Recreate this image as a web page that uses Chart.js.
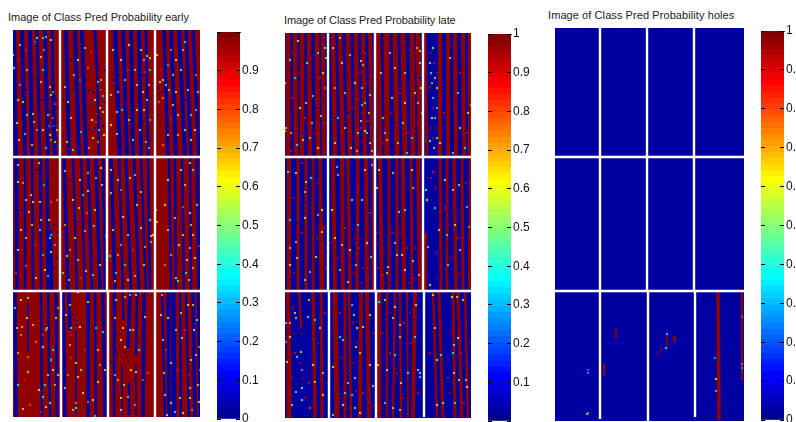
<!DOCTYPE html>
<html lang="en">
<head>
<meta charset="UTF-8">
<title>Image of Class Pred Probability</title>
<script src="https://cdn.jsdelivr.net/npm/chart.js"></script>
<style>
    html, body { margin: 0; width: 796px; height: 422px; overflow: hidden; background: #fff; }
    canvas { position: absolute; }
    .title {
        position: absolute;
        font: 11px "Liberation Sans", Arial, sans-serif;
        color: #222;
        white-space: nowrap;
        line-height: 14px;
    }
</style>
</head>
<body>
<script>
// titles
const earlyTitle = 'Image of Class Pred Probability early';
const lateTitle = 'Image of Class Pred Probability late';
const holesTitle = 'Image of Class Pred Probability holes';

// colour bar tick labels
const earlyTicks = ['0', '0.1', '0.2', '0.3', '0.4', '0.5', '0.6', '0.7', '0.8', '0.9'];
const lateTicks = ['0.1', '0.2', '0.3', '0.4', '0.5', '0.6', '0.7', '0.8', '0.9', '1'];
const holesTicks = ['0', '0.1', '0.2', '0.3', '0.4', '0.5', '0.6', '0.7', '0.8', '0.9', '1'];

// jet colormap, 64 levels, low to high
const jetColors = [
    '#000090','#0000A0','#0000B0','#0000C0','#0000D0','#0000E0','#0000F0','#0000FF',
    '#0010FF','#0020FF','#0030FF','#0040FF','#0050FF','#0060FF','#0070FF','#0080FF',
    '#008FFF','#009FFF','#00AFFF','#00BFFF','#00CFFF','#00DFFF','#00EFFF','#00FFFF',
    '#10FFEF','#20FFDF','#30FFCF','#40FFBF','#50FFAF','#60FF9F','#70FF8F','#80FF80',
    '#8FFF70','#9FFF60','#AFFF50','#BFFF40','#CFFF30','#DFFF20','#EFFF10','#FFFF00',
    '#FFEF00','#FFDF00','#FFCF00','#FFBF00','#FFAF00','#FF9F00','#FF8F00','#FF8000',
    '#FF7000','#FF6000','#FF5000','#FF4000','#FF3000','#FF2000','#FF1000','#FF0000',
    '#EF0000','#DF0000','#CF0000','#BF0000','#AF0000','#9F0000','#8F0000','#800000'
];

// probability of the image background and of the stripes laid over it
const earlyBase = 0.985, earlyStripeValue = 0.015;
const lateBase = 0.015, lateStripeValue = 0.985;
const holesBase = 0.015, holesStripeValue = 0.985;

// image size in columns, rows
const earlySize = [187, 387];
const lateSize = [186, 385];
const holesSize = [189, 393];

// stripes: colA, rowA, colB, rowB, width in columns
const earlyStripes = [
    // top row of tiles
    [1,0,3,127,4],[9,0,12,127,4],[17,0,19,127,4],[24,0,27,127,3],[32,0,35,127,4],[39,0,40,60,3],[40,60,42,127,4],
    [53,0,56,127,4],[62,0,66,127,4],[69,0,73,127,4],[82,0,84,40,3],[84,40,86,127,2.5],
    [102,0,107,127,4.5],[110,0,114,127,4],[118,0,120,127,4],[126,0,128,127,4],[133,0,135,127,3],
    [151,0,155,127,3.5],[158,0,163,127,4],[166,0,172,127,4],[173,0,178,127,3.5],[180,0,186,127,3.5],
    // middle row
    [3,127,4,261,3.5],[12,127,12,261,2.5],[19,127,20,261,2.5],[27,127,28,261,2.5],[34,127,35,261,3.5],[37,200,39,261,3.5],
    [51,127,55,261,3.5],[60,127,64,261,2.5],[68,127,72,261,2.5],[75,127,79,261,3],[83,127,87,261,3.5],[90,127,92,261,3],
    [98,127,102,261,3.5],[106,127,110,261,2.5],[113,127,118,261,3],[121,127,126,261,3],[128,127,133,261,2.5],[135,127,137,261,2.5],
    [156,127,158,261,2.5],[162,127,163,261,2.5],[169,127,171,261,2.5],[177,127,178,261,2.5],[184,127,186,261,3.5],
    // bottom row
    [2,261,3,387,3.5],[15,272,15,322,1.5],[28,261,29,387,2.5],[35,261,37,387,2.5],[43,261,44,387,3],
    [50,261,52,387,3.5],[56,261,57,300,3.5],[63,300,63,385,1.5],[75,261,75,387,3.5],[82,261,83,387,2.5],[90,261,92,387,3.5],
    [102,261,101,387,2.5],[110,261,110,290,2.5],[117,261,115,318,3.5],[109,335,109,385,1.5],[124,261,123,325,2.5],[116,352,116,385,2.5],[123,335,123,385,1.5],[131,261,130,387,3.5],
    [149,261,152,387,2.5],[155,261,156,387,3.5],[160,261,161,387,5],[167,261,168,387,2.5],[173,261,176,387,2.5],[180,261,182,387,3.5],[185,261,187,387,3]
];

const lateStripes = [
    // top row of tiles
    [3,0,3,124,4.5],[10,0,11,124,4.5],[17,0,17,124,4.5],[24,0,25,124,4.5],[32,0,33,124,4.5],[38,0,39,124,4],
    [48,0,50,124,4.5],[55,0,58,124,4.5],[63,0,65,124,4.5],[71,0,72,124,4.5],[78,0,80,124,4],[85,0,87,124,4],
    [93,0,95,124,5],[101,0,102,124,5],[110,0,112,124,5],[118,0,120,124,5],[127,0,128,124,5],[133,0,135,124,4.5],
    [140,0,142,124,3],[155,0,155,124,4],[163,0,163,124,4],[170,0,171,124,4],[178,0,179,124,4],[185,0,185,124,4],
    // middle row
    [4,124,4,258,4],[13,124,13,258,3],[21,124,21,258,3],[28,124,28,258,3],[35,124,36,190,3.5],[36,190,37,258,5],
    [48,124,50,258,4],[57,124,58,258,4],[63,124,65,258,3.5],[73,124,72,258,3.5],[81,124,82,258,4],[88,124,88,258,3],
    [95,124,97,258,4],[104,124,104,258,3],[112,124,112,258,3],[118,124,119,258,4],[126,124,127,258,3],[133,124,135,258,4],
    [140,200,140,258,4],[155,124,156,258,3],[162,124,162,258,3],[169,124,171,258,3.5],[177,124,178,258,3],[185,124,185,200,2.5],[185,200,185,258,4],
    // bottom row
    [3,258,4,320,4],[4,320,4,385,5],[14,258,16,295,2.5],[28,258,30,385,3.5],[36,258,37,385,3],
    [50,258,52,385,5],[60,258,60,385,3],[64,258,66,385,2.5],[76,258,75,385,4],[82,258,84,385,4],
    [94,258,94,385,4.5],[102,258,102,385,2.5],[110,258,108,385,2.5],[115,258,116,385,2.5],[122,258,123,385,2],[130,258,128,385,4],
    [148,258,152,385,2.5],[154,258,158,385,3],[168,258,170,385,3],[173,258,177,385,3],[180,258,183,385,2.5]
];

const holesStripes = [
    [163,264,164,392,3.5],[187,264,187,352,2],[61,301,61,310,2],[49,335,49,347,2],[112,306,112,320,1.5],[119.5,308,119.5,314,2.5]
];

// noisy cells: col, row, probability
const earlySpeckles = [
    [0,25,.65],[1,38,.45],[5,70,.5],[10,72,.6],[28,27,.65],[31,20,.75],[24,8,.5],[33,7,.35],[38,10,.55],[37,57,.65],[40,62,.75],[38,65,.5],[35,85,.65],[40,88,.8],[37,105,.6],[38,110,.75],[33,118,.35],[24,100,.75],[19,115,.65],[28,52,.5],[4,93,.6],[14,40,.7],[7,15,.45],[42,74,.85],[41,96,.2],[44,100,.7],[36,96,.25],[42,112,.65],[20,84,.55],[12,104,.4],
    [52,57,.5],[55,72,.6],[61,45,.7],[78,22,.85],[75,38,.8],[65,30,.6],[72,18,.45],[85,52,.4],[88,50,.7],[82,70,.5],[90,66,.35],[87,78,.55],[79,90,.6],[83,92,.85],[86,100,.4],[80,108,.65],[85,112,.75],[90,82,.5],[58,88,.65],[68,102,.35],[54,112,.55],[60,120,.45],[76,118,.7],[91,105,.6],
    [100,20,.55],[98,65,.65],[108,30,.6],[112,50,.7],[105,62,.45],[104,104,.5],[116,15,.6],[122,40,.45],[124,80,.55],[128,20,.6],[131,30,.7],[134,26,.65],[132,42,.85],[137,28,.5],[136,55,.7],[130,62,.6],[134,70,.45],[131,80,.65],[137,90,.75],[127,100,.6],[133,112,.7],[136,118,.35],[120,110,.5],[137,40,.35],[98,95,.6],
    [150,50,.5],[147,52,.65],[153,55,.4],[150,68,.75],[146,72,.8],[142,72,.7],[144,25,.6],[160,45,.5],[158,20,.75],[156,60,.45],[163,62,.6],[160,75,.65],[168,40,.55],[175,60,.65],[178,85,.4],[183,80,.35],[185,62,.5],[172,100,.5],[165,105,.7],[155,105,.55],[178,110,.65],[150,115,.75],[172,12,.45],[158,90,.85],
    [5,135,.5],[5,152,.6],[10,153,.7],[18,165,.65],[20,172,.6],[27,172,.6],[26,133,.55],[13,170,.5],[36,190,.6],[28,190,.65],[19,195,.65],[38,205,.35],[42,215,.75],[38,222,.6],[37,208,.5],[13,208,.5],[5,220,.6],[38,172,.8],[35,246,.35],[23,248,.6],[3,243,.85],[13,236,.8],[27,200,.4],
    [52,141,.5],[75,143,.7],[75,161,.6],[66,178,.65],[74,183,.8],[81,196,.45],[72,201,.45],[83,148,.4],[93,206,.3],[57,220,.75],[54,226,.65],[65,230,.55],[73,241,.65],[80,245,.45],[87,235,.6],[88,138,.6],[67,150,.55],[52,195,.7],[50,243,.5],[60,170,.6],
    [98,140,.6],[98,163,.5],[105,150,.55],[117,148,.55],[122,145,.45],[128,198,.5],[128,162,.55],[138,206,.65],[140,205,.6],[138,212,.7],[103,243,.4],[112,235,.35],[102,251,.65],[115,250,.6],[122,246,.7],[97,226,.4],[132,217,.7],[110,187,.55],
    [143,180,.45],[144,192,.65],[162,188,.65],[155,150,.6],[170,177,.8],[177,183,.6],[178,195,.5],[168,140,.55],[177,133,.65],[158,225,.7],[163,248,.55],[165,251,.5],[177,218,.5],[170,205,.55],[186,216,.85],[182,228,.6],[180,238,.7],[173,243,.45],[155,200,.5],
    [2,278,.45],[4,298,.5],[9,297,.7],[15,268,.65],[14,288,.6],[20,295,.65],[23,312,.75],[30,317,.55],[5,323,.7],[15,327,.75],[15,342,.5],[5,355,.45],[30,367,.45],[32,355,.4],[37,373,.55],[33,377,.6],[43,288,.65],[34,298,.5],[45,278,.75],[42,355,.7],[17,375,.8],[10,379,.55],[28,382,.85],
    [57,275,.65],[58,298,.45],[67,297,.6],[53,285,.55],[57,315,.7],[63,333,.6],[65,347,.65],[52,358,.5],[70,363,.6],[63,373,.7],[63,378,.5],[75,272,.55],[83,298,.35],[87,335,.75],[85,352,.6],[82,386,.35],[90,302,.4],[75,372,.75],[58,328,.85],
    [103,270,.5],[102,288,.65],[110,298,.55],[108,310,.6],[112,317,.65],[117,265,.7],[117,300,.55],[108,368,.6],[108,380,.55],[102,345,.35],[123,342,.6],[135,343,.8],[132,287,.55],[123,265,.6],[115,367,.7],[122,375,.75],[112,267,.7],
    [149,265,.7],[155,288,.6],[150,310,.5],[158,333,.5],[151,343,.65],[152,365,.5],[158,373,.6],[169,308,.55],[168,283,.65],[175,275,.6],[183,325,.5],[186,317,.75],[187,340,.3],[177,358,.7],[177,368,.6],[170,383,.6],[162,382,.45],[180,275,.55],[185,355,.55],[167,368,.5],
    // blue and deep red cells that fray the stripes
    [43,70,.02],[44,78,.02],[38,82,.02],[43,86,.02],[36,90,.03],[45,92,.02],[39,100,.02],[44,108,.02],[37,114,.02],[42,120,.02],[45,116,.15],[29,70,.02],[21,50,.02],[14,60,.1],[6,30,.9],[13,20,.85],[22,12,.25],[30,40,.35],[7,55,.3],[21,92,.7],[30,100,.55],[14,85,.4],[6,110,.65],[46,40,.02],[30,8,.4],
    [58,30,.02],[59,60,.02],[67,50,.25],[76,60,.02],[78,70,.1],[80,62,.02],[85,70,.02],[88,88,.02],[82,98,.02],[90,96,.02],[79,116,.9],[84,84,.9],[88,60,.85],[92,72,.02],[92,40,.02],[76,100,.02],
    [130,45,.02],[135,50,.02],[129,75,.02],[137,68,.02],[130,92,.02],[135,100,.02],[128,115,.02],[137,110,.02],[124,55,.5],[115,40,.85],[109,80,.35],[100,50,.02],[116,90,.55],[104,82,.65],
    [146,58,.02],[149,62,.02],[145,85,.02],[155,35,.3],[163,30,.6],[172,70,.02],[176,100,.02],[148,40,.9],[187,70,.02],[183,45,.75],[165,85,.45],[182,100,.6],[170,20,.7],
    [9,180,.02],[24,140,.02],[31,155,.3],[41,195,.02],[44,202,.02],[40,210,.02],[36,215,.02],[44,228,.02],[40,238,.02],[30,225,.35],[22,215,.85],[16,182,.5],[8,200,.55],[32,240,.6],[44,170,.75],
    [58,150,.02],[70,165,.35],[66,192,.02],[71,212,.02],[78,225,.02],[82,180,.55],[85,205,.02],[92,230,.02],[56,250,.45],[62,208,.6],[89,155,.5],[68,248,.85],
    [108,160,.3],[124,175,.6],[115,205,.5],[105,225,.7],[135,170,.02],[131,235,.6],[108,215,.35],[120,220,.85],[137,190,.45],[100,200,.55],
    [152,175,.6],[160,210,.02],[172,155,.65],[180,140,.5],[184,175,.5],[174,230,.6],[180,205,.55],[166,215,.55],[152,235,.75],[176,250,.5],
    [8,305,.75],[12,350,.85],[25,290,.9],[40,320,.45],[40,340,.6],[38,330,.35],[26,360,.6],[33,300,.7],[45,345,.55],[8,270,.55],[35,345,.5],[30,305,.85],
    [60,285,.02],[62,290,.02],[63,295,.02],[58,305,.9],[65,262,.6],[72,320,.85],[68,340,.5],[80,370,.55],[92,340,.6],[85,320,.65],[55,345,.75],[60,380,.45],
    [104,305,.02],[107,315,.02],[112,322,.02],[104,322,.02],[98,332,.02],[120,300,.5],[126,320,.45],[130,350,.8],[111,355,.5],[105,350,.7],[118,340,.55],
    [148,285,.6],[153,320,.85],[163,300,.5],[172,300,.85],[178,330,.55],[176,345,.9],[181,300,.6],[184,290,.45],[186,372,.6],[179,380,.75],[154,385,.6],[165,340,.85]
];

const lateSpeckles = [
    [0,50,.55],[1,95,.5],[0,98,.65],[5,27,.45],[10,45,.35],[13,8,.6],[22,30,.5],[15,75,.6],[28,63,.45],[33,20,.4],[27,90,.7],[25,105,.45],[33,115,.6],[40,15,.55],[38,40,.6],[36,83,.5],[6,100,.7],[18,107,.5],[12,112,.4],[40,55,.8],[21,70,.65],[41,25,.5],
    [48,15,.55],[55,5,.5],[57,30,.6],[65,22,.45],[50,55,.7],[53,85,.45],[60,60,.55],[70,50,.6],[60,95,.65],[73,100,.5],[76,28,.6],[77,55,.45],[78,32,.7],[80,70,.4],[85,62,.5],[77,72,.35],[84,80,.65],[76,88,.55],[80,98,.6],[85,110,.5],[82,100,.45],[87,118,.4],[50,110,.6],[66,115,.55],[72,118,.7],
    [96,40,.55],[100,100,.4],[102,107,.7],[105,20,.5],[110,35,.6],[107,65,.65],[113,110,.65],[120,40,.45],[118,90,.5],[122,120,.4],[127,105,.35],[132,15,.7],[135,18,.65],[138,20,.75],[135,30,.5],[136,55,.6],[133,70,.45],[137,80,.35],[130,60,.55],[120,70,.6],[98,85,.45],
    [145,30,.65],[148,15,.6],[146,40,.45],[150,45,.5],[147,50,.7],[148,65,.35],[152,55,.6],[150,85,.4],[147,85,.6],[152,105,.5],[149,115,.65],[145,108,.55],[155,110,.6],[165,25,.5],[173,60,.45],[175,95,.6],[183,80,.55],[186,72,.7],[180,115,.4],[168,120,.45],[152,75,.35],
    [3,139,.45],[11,140,.55],[21,149,.6],[26,145,.4],[20,159,.65],[33,182,.7],[37,199,.65],[5,187,.4],[11,209,.45],[5,215,.7],[20,185,.6],[12,225,.5],[5,232,.6],[25,239,.4],[20,247,.5],[31,224,.55],[37,177,.6],
    [52,134,.4],[53,142,.7],[47,177,.6],[67,167,.5],[73,192,.4],[57,212,.55],[50,205,.6],[65,217,.6],[71,232,.45],[82,210,.6],[86,224,.5],[55,237,.5],[77,167,.5],[80,137,.6],[87,132,.35],[63,249,.55],
    [92,155,.5],[94,137,.6],[108,140,.65],[120,177,.45],[114,179,.5],[128,155,.7],[127,137,.6],[112,222,.55],[117,222,.6],[103,234,.5],[102,240,.65],[120,237,.55],[97,242,.85],[110,210,.45],[128,228,.5],[134,242,.7],
    [141,157,.5],[142,167,.6],[148,139,.85],[150,175,.35],[154,197,.55],[143,214,.4],[163,232,.45],[174,152,.65],[168,157,.55],[160,147,.6],[182,174,.4],[170,192,.6],[184,194,.75],[175,217,.5],[162,202,.4],[145,252,.6],[152,245,.15],
    [1,290,.45],[5,290,.7],[10,280,.6],[11,285,.5],[5,304,.65],[1,309,.75],[2,329,.6],[16,319,.6],[17,337,.75],[12,324,.45],[17,355,.55],[11,359,.45],[24,267,.55],[23,284,.5],[30,287,.4],[28,332,.6],[30,349,.65],[38,340,.5],[25,375,.8],[7,372,.45],[38,362,.6],[17,367,.5],[35,295,.55],
    [67,272,.35],[69,282,.5],[72,295,.6],[58,307,.45],[55,304,.4],[71,314,.6],[75,320,.5],[48,334,.6],[63,350,.5],[70,345,.55],[60,360,.45],[67,362,.35],[70,375,.55],[75,380,.65],[58,372,.6],[48,382,.5],[85,332,.6],[88,353,.5],[85,282,.55],[78,294,.6],
    [94,269,.45],[100,267,.55],[110,274,.6],[108,285,.5],[115,292,.55],[115,304,.65],[130,304,.45],[131,272,.6],[110,322,.4],[102,337,.55],[116,350,.6],[123,340,.5],[133,337,.65],[135,340,.55],[135,344,.35],[100,370,.4],[108,375,.5],[115,377,.45],[93,332,.65],
    [148,262,.65],[150,295,.55],[156,322,.45],[152,327,.6],[169,312,.5],[168,320,.4],[173,305,.6],[167,264,.6],[172,264,.55],[169,340,.55],[181,347,.65],[182,354,.6],[174,347,.5],[152,372,.6],[158,370,.5],[170,370,.45],[178,267,.55],
    // red cells in the blue gaps, blue cells in the red stripes
    [7,20,.95],[7,65,.9],[14,40,.95],[20,85,.85],[29,100,.95],[35,45,.9],[41,90,.95],[6,118,.9],[26,40,.05],[33,75,.05],[17,100,.05],
    [75,40,.95],[77,80,.95],[76,95,.9],[81,50,.95],[83,88,.9],[78,110,.95],[86,95,.9],[80,20,.9],[74,66,.95],[84,40,.05],[64,80,.05],[50,85,.05],[57,100,.9],[67,75,.95],
    [132,35,.95],[135,45,.05],[130,20,.95],[137,60,.95],[134,90,.9],[123,100,.95],[106,80,.95],[115,60,.9],[98,110,.95],[110,90,.05],[120,15,.05],
    [146,20,.95],[149,30,.9],[145,55,.95],[152,40,.95],[148,75,.95],[151,95,.95],[146,95,.9],[153,118,.95],[148,105,.95],[159,80,.9],[175,40,.95],[182,100,.9],
    [8,165,.95],[17,200,.9],[25,175,.95],[32,205,.95],[40,215,.95],[41,235,.95],[39,195,.9],[9,240,.95],[17,130,.9],[32,150,.95],[13,190,.05],
    [46,210,.95],[53,225,.95],[49,190,.95],[60,195,.9],[69,240,.95],[76,250,.95],[74,215,.9],[78,235,.95],[84,245,.95],[70,205,.95],[85,180,.9],[91,200,.9],
    [92,210,.95],[93,235,.95],[99,220,.95],[107,200,.9],[100,250,.95],[115,200,.95],[122,215,.9],[124,250,.95],[130,215,.95],[137,225,.95],[129,245,.95],
    [146,145,.9],[150,155,.95],[160,175,.9],[166,225,.95],[173,205,.9],[181,150,.95],[152,220,.9],[174,240,.95],
    [8,275,.95],[9,300,.95],[7,345,.95],[10,320,.9],[17,300,.95],[18,345,.95],[15,330,.95],[20,365,.95],[24,350,.9],[33,310,.95],[40,280,.9],[42,350,.95],
    [55,280,.9],[68,290,.95],[72,310,.95],[56,325,.95],[68,330,.95],[71,358,.95],[66,375,.9],[56,365,.95],[62,340,.95],[88,300,.95],[78,360,.9],[88,372,.95],
    [98,300,.95],[105,320,.9],[112,340,.95],[119,290,.9],[118,365,.95],[126,310,.95],[105,280,.95],[133,360,.9],[97,375,.95],[125,280,.95],
    [145,320,.9],[163,345,.9],[166,300,.95],[165,360,.95],[176,320,.9],[185,310,.95],[184,335,.95],[179,370,.9]
];

const holesSpeckles = [
    [33,342,.25],[33,345,.3],[33,385,.75],[32,386,.45],[103,326,.95],[106,322,.95],[112,306,.35],[111,320,.4],[160,330,.3],[161,351,.6],[161,363,.7],[187,289,.8],[187,336,.75],[187,340,.3]
];

// white separators between tiles: colA, rowA, colB, rowB
const earlySeparators = [[47,0,47,127],[94,0,94,127],[142,0,142,127],[47,127,47,261],[94,127,94,261],[142,127,142,261],[48,261,48,387],[95,261,95,387],[142,261,142,387],[0,127,187,127],[0,261,187,261]];
const lateSeparators = [[43,0,43,124],[90,0,90,124],[138,0,138,124],[43,124,43,258],[90,124,90,258],[138,124,138,258],[44,258,44,385],[91,258,91,385],[139,258,139,384],[0,124,186,124],[0,258,186,258]];
const holesSeparators = [[45,0,45,129],[92,0,92,129],[139,0,139,129],[45,129,45,263],[92,129,92,263],[139,129,139,263],[45,263,45,391],[93,263,93,393],[140,263,140,389],[0,129,189,129],[0,263,189,263]];

const levelColor = v => jetColors[Math.round(v * (jetColors.length - 1))];

function addCanvas(left, top, width, height, blur) {
    const canvas = document.createElement('canvas');
    canvas.width = width;
    canvas.height = height;
    canvas.style.left = left + 'px';
    canvas.style.top = top + 'px';
    if (blur) canvas.style.filter = 'blur(' + blur + 'px)';
    document.body.appendChild(canvas);
    return canvas.getContext('2d');
}

function addTitle(text, left, top, spacing) {
    const div = document.createElement('div');
    div.className = 'title';
    div.textContent = text;
    div.style.left = left + 'px';
    div.style.top = top + 'px';
    div.style.letterSpacing = spacing + 'px';
    document.body.appendChild(div);
}

function drawImagePanel(box, size, base, stripeValue, stripes, speckles, separators, blur) {
    const [cols, rows] = size;
    const ctx = addCanvas(box.left, box.top, box.width, box.height, blur);
    const scaleX = box.width / cols;
    const datasets = [];

    datasets.push({
        data: [{ x: 0, y: 0 }, { x: cols, y: 0 }],
        fill: 'start',
        backgroundColor: levelColor(base),
        borderWidth: 0,
        pointRadius: 0,
        order: 9
    });
    stripes.forEach(s => datasets.push({
        data: [{ x: s[0], y: s[1] }, { x: s[2], y: s[3] }],
        borderColor: levelColor(stripeValue),
        borderWidth: s[4] * scaleX,
        borderCapStyle: 'butt',
        pointRadius: 0,
        order: 5
    }));
    datasets.push({
        data: speckles.map(p => ({ x: p[0], y: p[1], v: p[2] })),
        showLine: false,
        pointStyle: 'rect',
        pointRadius: 1.5,
        pointBorderWidth: 0,
        pointBackgroundColor: c => levelColor(c.raw.v) + 'C0',
        order: 2
    });
    separators.forEach(s => datasets.push({
        data: [{ x: s[0], y: s[1] }, { x: s[2], y: s[3] }],
        borderColor: '#fff',
        borderWidth: 2.4,
        borderCapStyle: 'butt',
        pointRadius: 0,
        order: 1
    }));

    new Chart(ctx, {
        type: 'line',
        data: { datasets: datasets },
        options: {
            responsive: false,
            animation: false,
            events: [],
            layout: { padding: 0, autoPadding: false },
            plugins: { legend: { display: false }, tooltip: { enabled: false } },
            scales: {
                x: { type: 'linear', display: false, min: 0, max: cols },
                y: { type: 'linear', display: false, reverse: true, min: 0, max: rows }
            }
        }
    });
}

function drawColorBar(box, tickLabels) {
    const pad = 10, labelWidth = 40;
    const ctx = addCanvas(box.left, box.top - pad, box.width + labelWidth, box.height + pad * 2, 0);
    new Chart(ctx, {
        type: 'bar',
        data: {
            labels: [''],
            datasets: jetColors.map(color => ({
                data: [1 / jetColors.length],
                backgroundColor: color,
                borderWidth: 0,
                barPercentage: 1,
                categoryPercentage: 1
            }))
        },
        options: {
            responsive: false,
            animation: false,
            events: [],
            layout: { padding: { top: pad, bottom: pad, left: 0, right: 0 }, autoPadding: false },
            plugins: { legend: { display: false }, tooltip: { enabled: false } },
            scales: {
                x: {
                    stacked: true,
                    position: 'top',
                    grid: { display: false, drawTicks: false },
                    border: { display: true, color: '#333', width: 1 },
                    ticks: { display: false }
                },
                y: {
                    stacked: true,
                    position: 'right',
                    min: 0,
                    max: 1,
                    afterFit: scale => { scale.width = labelWidth; },
                    // grid line dashed so only a short mark shows on each side of the bar
                    grid: { color: '#000', lineWidth: 1, drawTicks: false, z: 1 },
                    border: { display: true, color: '#333', width: 1, dash: [4, box.width - 8, 4] },
                    ticks: {
                        stepSize: 0.1,
                        padding: 2,
                        color: '#111',
                        font: { family: '"Liberation Sans", Arial, sans-serif', size: 12 },
                        callback: value => {
                            const label = String(+value.toFixed(1));
                            return tickLabels.includes(label) ? label : '';
                        }
                    }
                }
            }
        }
    });
}

addTitle(earlyTitle, 8, 10, 0);
addTitle(lateTitle, 284, 13, -0.09);
addTitle(holesTitle, 548, 8, 0.08);

drawImagePanel({ left: 13, top: 30, width: 187, height: 387 }, earlySize, earlyBase, earlyStripeValue, earlyStripes, earlySpeckles, earlySeparators, 0.2);
drawImagePanel({ left: 285, top: 33, width: 186, height: 385 }, lateSize, lateBase, lateStripeValue, lateStripes, lateSpeckles, lateSeparators, 0.3);
drawImagePanel({ left: 555, top: 28, width: 189, height: 393 }, holesSize, holesBase, holesStripeValue, holesStripes, holesSpeckles, holesSeparators, 0.3);

drawColorBar({ left: 217, top: 32, width: 23, height: 387 }, earlyTicks);
drawColorBar({ left: 488, top: 34, width: 23, height: 387 }, lateTicks);
drawColorBar({ left: 761, top: 31, width: 23, height: 389 }, holesTicks);
</script>
</body>
</html>
